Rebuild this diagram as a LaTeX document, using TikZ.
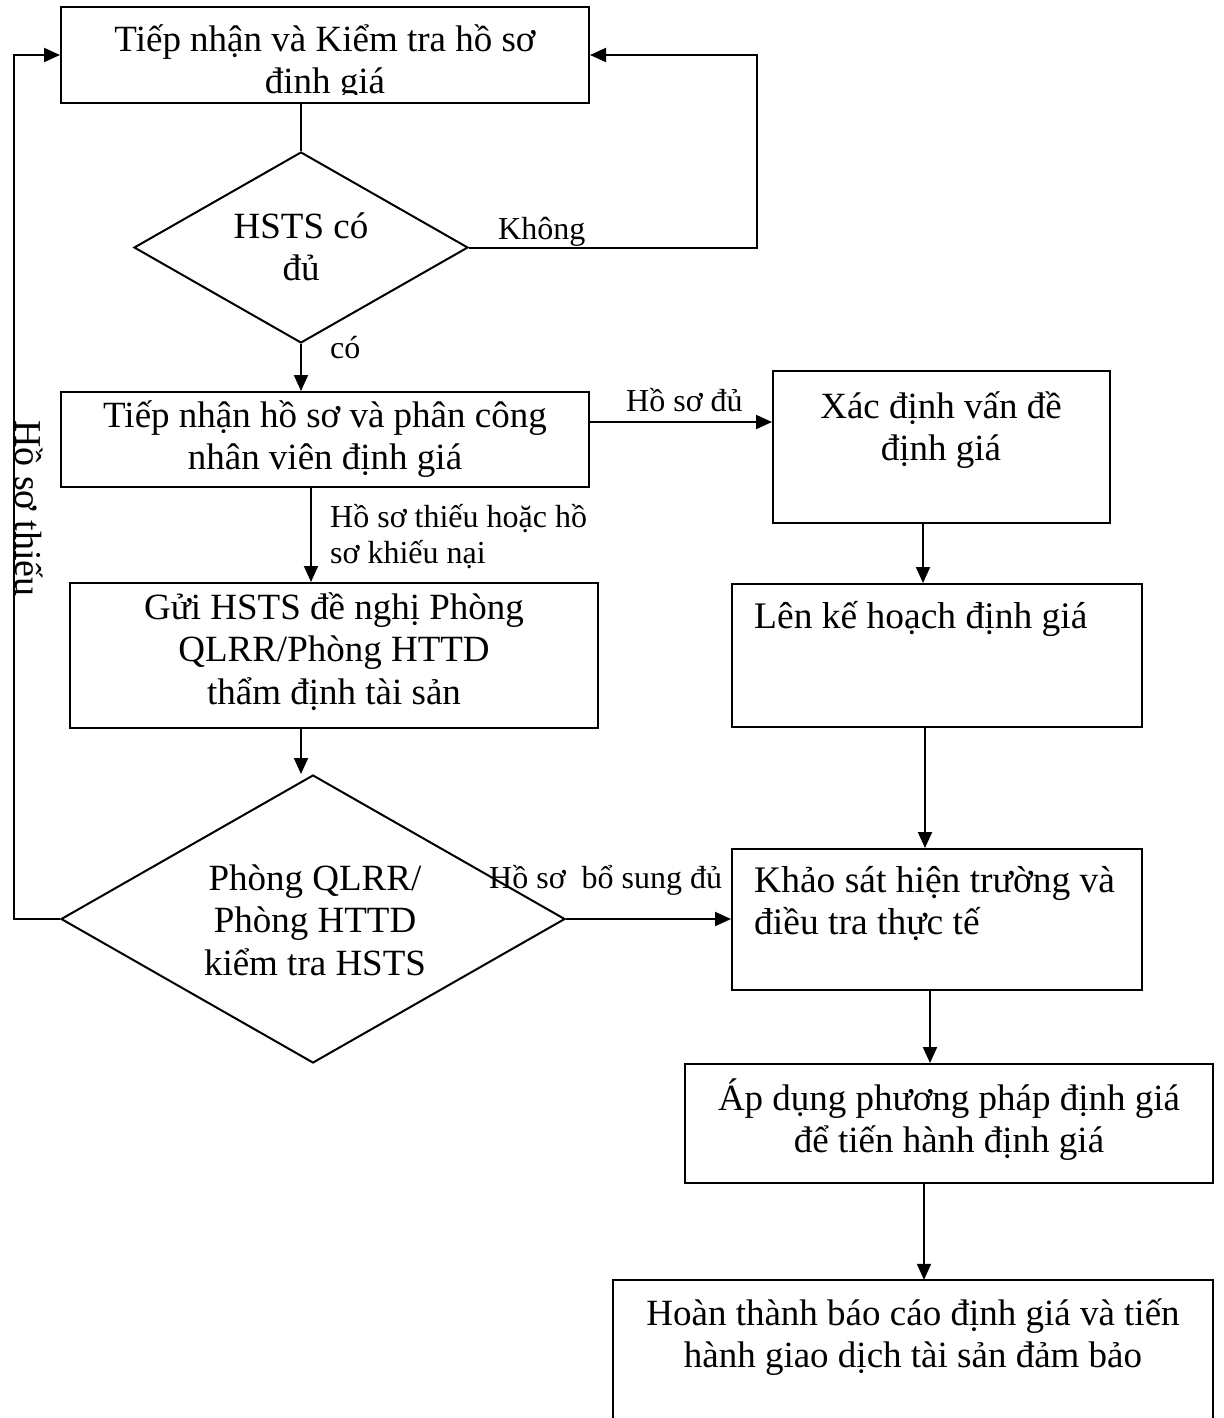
\documentclass[tikz,border=0pt]{standalone}
\usepackage{fontspec}
\setmainfont{Liberation Serif}
\usetikzlibrary{arrows.meta,shapes.geometric}
\begin{document}
\begin{tikzpicture}[x=1pt,y=-1pt,
  boxc/.style={draw, line width=2pt, rectangle, inner sep=0pt},
  hidbox/.style={rectangle, inner sep=0pt},
  dia/.style={draw, line width=2pt, diamond, inner sep=0pt},
  big/.style={font=\fontsize{37}{42.5}\selectfont, inner sep=0pt, align=center},
  bigl/.style={font=\fontsize{37.5}{42.5}\selectfont, inner sep=0pt, align=left},
  small/.style={font=\fontsize{32}{36}\selectfont, inner sep=0pt, align=left},
  arr/.style={-{Triangle[length=16pt,width=14pt]}, line width=2pt},
  ln/.style={line width=2pt}]
\useasboundingbox (0,0) rectangle (1223,1418);

% boxes
\node[boxc, minimum width=528pt, minimum height=96pt] (b1) at (325,55) {};
\node[dia, minimum width=334pt, minimum height=191pt] (d1) at (301,247.5) {};
\node[boxc, minimum width=528pt, minimum height=95pt] (b2) at (325,439.5) {};
\node[boxc, minimum width=337pt, minimum height=152pt] (b3) at (941.5,447) {};
\node[boxc, minimum width=528pt, minimum height=145pt] (b4) at (334,655.5) {};
\node[dia, minimum width=504pt, minimum height=288pt] (d2) at (313,919) {};
\node[boxc, minimum width=410pt, minimum height=143pt] (b5) at (937,655.5) {};
\node[boxc, minimum width=410pt, minimum height=141pt] (b6) at (937,919.5) {};
\node[boxc, minimum width=528pt, minimum height=119pt] (b7) at (949,1123.5) {};
\node[hidbox, minimum width=600pt, minimum height=138pt] (b8) at (913,1349) {};
\draw[ln] (b8.south west) |- (b8.north east) -- (b8.south east);

% texts
\begin{scope}
\clip (62,8) rectangle (588,95);
\node[big, anchor=north] (t1) at (325,21.25) {\strut Tiếp nhận và Kiểm tra hồ sơ\\định giá};
\end{scope}
\node[big, anchor=north] (t2) at (301,208.25) {\strut HSTS có\\đủ};
\node[big, anchor=north] (t3) at (325,397.25) {\strut Tiếp nhận hồ sơ và phân công\\nhân viên định giá};
\node[big, anchor=north] (t4) at (941,388.25) {\strut Xác định vấn đề\\định giá};
\node[big, anchor=north] (t5) at (334,589.25) {\strut Gửi HSTS đề nghị Phòng\\QLRR/Phòng HTTD\\thẩm định tài sản};
\node[big, anchor=north] (t6) at (315,860.25) {\strut Phòng QLRR/\\Phòng HTTD\\kiểm tra HSTS};
\node[bigl, anchor=base west] (t7) at (754,628.5) {Lên kế hoạch định giá};
\node[bigl, anchor=north west] (t8) at (754,862.25) {\strut Khảo sát hiện trường và\\điều tra thực tế};
\node[big, anchor=north] (t9) at (949,1078.25) {\strut Áp dụng phương pháp định giá\\để tiến hành định giá};
\node[big, anchor=north] (t10) at (913,1295.25) {\strut Hoàn thành báo cáo định giá và tiến\\hành giao dịch tài sản đảm bảo};

% labels
\node[small, anchor=base west] (l1) at (498,239) {Không};
\node[small, anchor=base west] (l2) at (330,358) {có};
\node[small, anchor=base west] (l3) at (626,411) {Hồ sơ đủ};
\node[small, anchor=north west] (l4) at (330,502) {\strut Hồ sơ thiếu hoặc hồ\\sơ khiếu nại};
\node[small, anchor=base west] (l5) at (489,888) {Hồ sơ\ \ bổ sung đủ};
\node[big, anchor=base west, rotate=-90, font=\fontsize{38}{42.5}\selectfont] (l6) at (15,420) {Hồ sơ thiếu};

% helper coordinates
\coordinate (kR) at (757,55);
\coordinate (kL) at (14,55);
\coordinate (yA) at (0,422);
\coordinate (xA) at (311,0);
\coordinate (xB) at (301,0);
\coordinate (xC) at (923,0);
\coordinate (xC2) at (925,0);
\coordinate (xD) at (930,0);
\coordinate (xE) at (924,0);

% connectors
\draw[ln] (b1.south -| d1.north) -- (d1.north);
\draw[arr] (d1.east) -| (kR) -- (b1.east);
\draw[arr] (d1.south) -- (d1.south |- b2.north);
\draw[arr] (b2.east |- yA) -- (b3.west |- yA);
\draw[arr] (b2.south -| xA) -- (b4.north -| xA);
\draw[arr] (b4.south -| xB) -- (d2.north -| xB);
\draw[arr] (d2.west) -| (kL) -- (b1.west);
\draw[arr] (d2.east) -- (b6.west |- d2.east);
\draw[arr] (b3.south -| xC) -- (b5.north -| xC);
\draw[arr] (b5.south -| xC2) -- (b6.north -| xC2);
\draw[arr] (b6.south -| xD) -- (b7.north -| xD);
\draw[arr] (b7.south -| xE) -- (b8.north -| xE);
\end{tikzpicture}
\end{document}
